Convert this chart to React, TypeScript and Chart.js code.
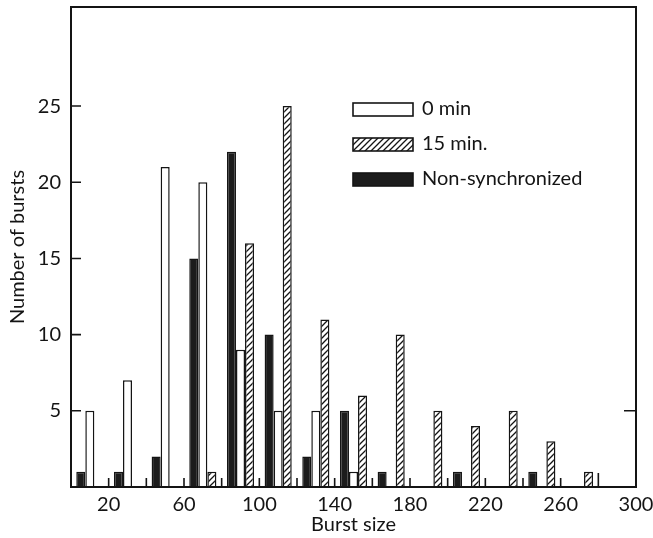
import React, { useEffect, useRef } from 'react';
import { Chart, registerables } from 'chart.js';

Chart.register(...registerables);

// ---- data ----
const binCenters = [10, 30, 50, 70, 90, 110, 130, 150, 170, 190, 210, 230, 250, 270, 290];
const nonSynchronized = [1, 1, 2, 15, 22, 10, 2, 5, 1, 0, 1, 0, 1, 0, 0];
const min0 = [5, 7, 21, 20, 9, 5, 5, 1, 0, 0, 0, 0, 0, 0, 0];
const min15 = [0, 0, 0, 1, 16, 25, 11, 6, 10, 5, 4, 5, 3, 1, 0];
const xTickLabels = [20, 60, 100, 140, 180, 220, 260, 300];
const yTickLabels = [5, 10, 15, 20, 25];
const seriesNames = ['Non-synchronized', '0 min', '15 min.'];
const legendOrder = [1, 2, 0];

const FONT = 'Lato, "Open Sans", "DejaVu Sans", sans-serif';
const INK = '#141414';

function makeHatch(): CanvasPattern | string {
  const c = document.createElement('canvas');
  c.width = 6;
  c.height = 6;
  const g = c.getContext('2d');
  if (!g) return '#fff';
  g.fillStyle = '#ffffff';
  g.fillRect(0, 0, 6, 6);
  g.strokeStyle = INK;
  g.lineWidth = 1.3;
  g.beginPath();
  g.moveTo(0, 6);
  g.lineTo(6, 0);
  g.moveTo(-1, 1);
  g.lineTo(1, -1);
  g.moveTo(5, 7);
  g.lineTo(7, 5);
  g.stroke();
  return g.createPattern(c, 'repeat') || '#fff';
}

const framePlugin = {
  id: 'frameTicksLegend',
  afterDatasetsDraw(chart: any) {
    const { ctx, chartArea: a, scales } = chart;
    const x = scales.x;
    const y = scales.y;
    ctx.save();
    ctx.strokeStyle = INK;
    ctx.lineWidth = 2;
    ctx.strokeRect(a.left, a.top, a.right - a.left, a.bottom - a.top);

    // inward tick marks
    ctx.lineWidth = 1.6;
    ctx.beginPath();
    x.ticks.forEach((t: any) => {
      if (t.value > x.min && t.value < x.max && t.value % 20 === 0) {
        const px = x.getPixelForValue(t.value);
        ctx.moveTo(px, a.bottom);
        ctx.lineTo(px, a.bottom - (t.value === 280 ? 14 : 9));
      }
    });
    y.ticks.forEach((t: any) => {
      if (yTickLabels.includes(t.value)) {
        const py = y.getPixelForValue(t.value);
        ctx.moveTo(a.left, py);
        ctx.lineTo(a.left + 10, py);
      }
    });
    const p5 = y.getPixelForValue(5);
    ctx.moveTo(a.right, p5);
    ctx.lineTo(a.right - 12, p5);
    ctx.stroke();

    // legend
    const lx = a.left + 282;
    let ly = a.top + 96;
    ctx.font = `20px ${FONT}`;
    ctx.textBaseline = 'middle';
    ctx.textAlign = 'left';
    legendOrder.forEach((di) => {
      const ds = chart.data.datasets[di];
      ctx.fillStyle = ds.backgroundColor;
      ctx.fillRect(lx, ly, 60, 13);
      ctx.lineWidth = 1.6;
      ctx.strokeStyle = INK;
      ctx.strokeRect(lx, ly, 60, 13);
      ctx.fillStyle = INK;
      ctx.fillText(ds.label, lx + 69, ly + 6);
      ly += 35;
    });
    ctx.restore();
  },
};

export default function App() {
  const ref = useRef<HTMLCanvasElement | null>(null);

  useEffect(() => {
    if (!ref.current) return;
    const hatch = makeHatch();
    const fills = ['#1c1c1c', '#ffffff', hatch];
    const values = [nonSynchronized, min0, min15];
    const chart = new Chart(ref.current, {
      type: 'bar',
      data: {
        datasets: values.map((vals, i) => ({
          label: seriesNames[i],
          data: binCenters.map((c, j) => ({ x: c, y: vals[j] })),
          backgroundColor: fills[i] as any,
          borderColor: INK,
          borderWidth: 1.5,
          categoryPercentage: 0.72,
          barPercentage: 1,
        })),
      },
      options: {
        responsive: false,
        animation: false,
        events: [],
        layout: { padding: { left: 0, top: 7, right: 17, bottom: 0 } },
        plugins: { legend: { display: false }, tooltip: { enabled: false } },
        scales: {
          x: {
            type: 'linear',
            offset: false,
            min: 0,
            max: 300,
            grid: { display: false, offset: false, drawTicks: false },
            border: { display: false },
            afterFit: (s: any) => {
              s.height = 51;
              s.paddingLeft = 0;
              s.paddingRight = 0;
            },
            ticks: {
              stepSize: 20,
              autoSkip: false,
              maxRotation: 0,
              padding: 6,
              color: INK,
              font: { family: FONT, size: 20 },
              callback: (v: any) => (xTickLabels.includes(Number(v)) ? String(v) : ''),
            },
            title: {
              display: true,
              text: 'Burst size',
              color: INK,
              font: { family: FONT, size: 20 },
              padding: { top: 0, bottom: 1 },
            },
          },
          y: {
            min: 0,
            max: 31.5,
            grid: { display: false, drawTicks: false },
            border: { display: false },
            afterFit: (s: any) => {
              s.width = 71;
              s.paddingTop = 0;
              s.paddingBottom = 0;
            },
            ticks: {
              stepSize: 5,
              autoSkip: false,
              padding: 10,
              color: INK,
              font: { family: FONT, size: 20 },
              callback: (v: any) => (yTickLabels.includes(Number(v)) ? String(v) : ''),
            },
            title: {
              display: true,
              text: 'Number of bursts',
              color: INK,
              font: { family: FONT, size: 20 },
              padding: { top: 6, bottom: 0 },
            },
          },
        },
      },
      plugins: [framePlugin],
    });
    return () => chart.destroy();
  }, []);

  return (
    <div style={{ position: 'absolute', left: 0, top: 0, width: 653, height: 538, background: '#fff' }}>
      <canvas ref={ref} width={653} height={538} />
    </div>
  );
}
